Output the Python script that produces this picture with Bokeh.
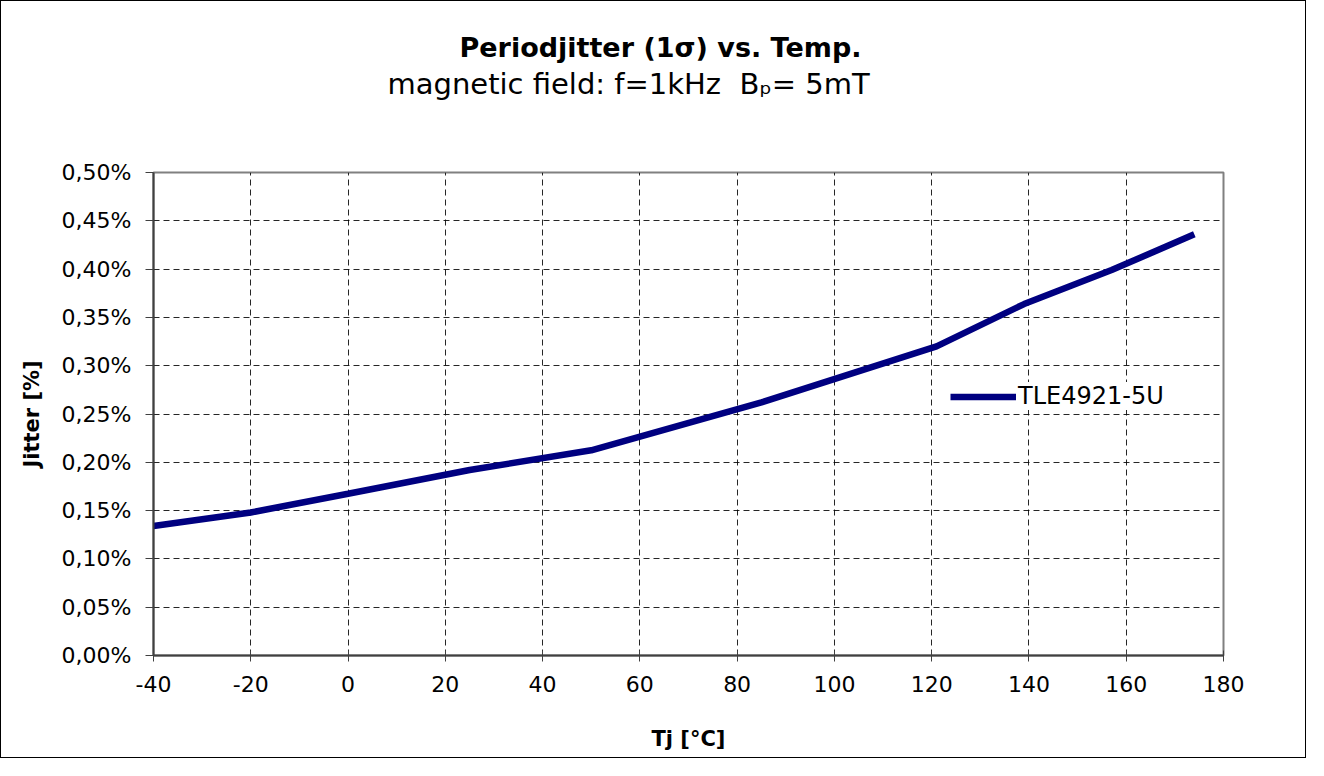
from bokeh.plotting import figure
from bokeh.models import (ColumnDataSource, FixedTicker, CustomJSTickFormatter,
                          Title, Legend, LegendItem, Range1d)
from bokeh.embed import file_html
from bokeh.resources import INLINE

# ---- data ----
temp_c = [-40, -20, 0, 25, 50, 85, 121, 139, 157, 174]
jitter_pct = [0.134, 0.148, 0.1675, 0.192, 0.2124, 0.262, 0.320, 0.3638, 0.399, 0.436]
series_name = "TLE4921-5U"
x_ticks = [-40, -20, 0, 20, 40, 60, 80, 100, 120, 140, 160, 180]
y_ticks = [0.00, 0.05, 0.10, 0.15, 0.20, 0.25, 0.30, 0.35, 0.40, 0.45, 0.50]
title_text = "Periodjitter (1σ) vs. Temp."
subtitle_text = "magnetic field: f=1kHz\u00a0 B\u209a= 5mT"
x_label = "Tj [°C]"
y_label = "Jitter [%]"

FONT = "DejaVu Sans"

p = figure(width=1306, height=758, output_backend="svg", toolbar_location=None,
           title=None,
           x_range=Range1d(-40, 180), y_range=Range1d(0, 0.5),
           min_border_left=152, min_border_right=84, min_border_top=171,
           min_border_bottom=104)
p.styles = {"border": "1px solid black"}
p.background_fill_color = "white"
p.border_fill_color = "white"
p.outline_line_color = "#808080"
p.outline_line_width = 2

src = ColumnDataSource(dict(x=temp_c, y=jitter_pct))
r = p.line("x", "y", source=src, line_color="#000080", line_width=6.5)

# axes
p.xaxis.ticker = FixedTicker(ticks=x_ticks)
p.yaxis.ticker = FixedTicker(ticks=y_ticks)
p.xaxis.formatter = CustomJSTickFormatter(code="return tick.toFixed(0);")
p.yaxis.formatter = CustomJSTickFormatter(code="return tick.toFixed(2).replace('.', ',') + '%';")
for ax in (p.xaxis, p.yaxis):
    ax.axis_line_color = "#404040"
    ax.axis_line_width = 2
    ax.major_tick_line_color = "#404040"
    ax.major_tick_line_width = 1
    ax.minor_tick_line_color = None
    ax.major_label_text_font = FONT
    ax.major_label_text_font_size = "22px"
    ax.major_label_text_color = "black"
    ax.axis_label_text_font = FONT
    ax.axis_label_text_font_size = "21px"
    ax.axis_label_text_font_style = "bold"
    ax.axis_label_text_color = "black"
p.xaxis.major_tick_in = 5
p.xaxis.major_tick_out = 6
p.yaxis.major_tick_in = 0
p.yaxis.major_tick_out = 8
p.xaxis.major_label_standoff = 14
p.yaxis.major_label_standoff = 14
p.xaxis.axis_label = x_label
p.yaxis.axis_label = y_label
p.xaxis.axis_label_standoff = 32
p.yaxis.axis_label_standoff = 15

# grid
for g in (p.xgrid, p.ygrid):
    g.grid_line_color = "black"
    g.grid_line_dash = "6 4"
    g.grid_line_width = 1
    g.grid_line_alpha = 0.85
p.xgrid.ticker = FixedTicker(ticks=x_ticks)
p.ygrid.ticker = FixedTicker(ticks=y_ticks)

# legend
legend = Legend(items=[LegendItem(label=series_name, renderers=[r])],
                location=(797, 245), padding=7, margin=0, spacing=0,
                glyph_width=66, glyph_height=25, label_height=25,
                label_standoff=2, border_line_color=None,
                background_fill_color="white", background_fill_alpha=1,
                label_text_font=FONT, label_text_font_size="24px",
                label_text_color="black")
p.add_layout(legend, "center")

# titles (a blank spacer row keeps the two title rows high above the plot)
spacer = Title(text=" ", align="left", standoff=68, text_font=FONT,
               text_font_size="1px", text_color="white")
sub = Title(text=subtitle_text, align="left", offset=234, standoff=2,
            text_font=FONT, text_font_size="29px", text_font_style="normal",
            text_color="black", vertical_align="bottom")
ttl = Title(text=title_text, align="left", offset=306, standoff=2,
            text_font=FONT, text_font_size="27px", text_font_style="bold",
            text_color="black", vertical_align="bottom")
p.add_layout(spacer, "above")
p.add_layout(sub, "above")
p.add_layout(ttl, "above")

open("out.html", "w").write(file_html(p, INLINE))
